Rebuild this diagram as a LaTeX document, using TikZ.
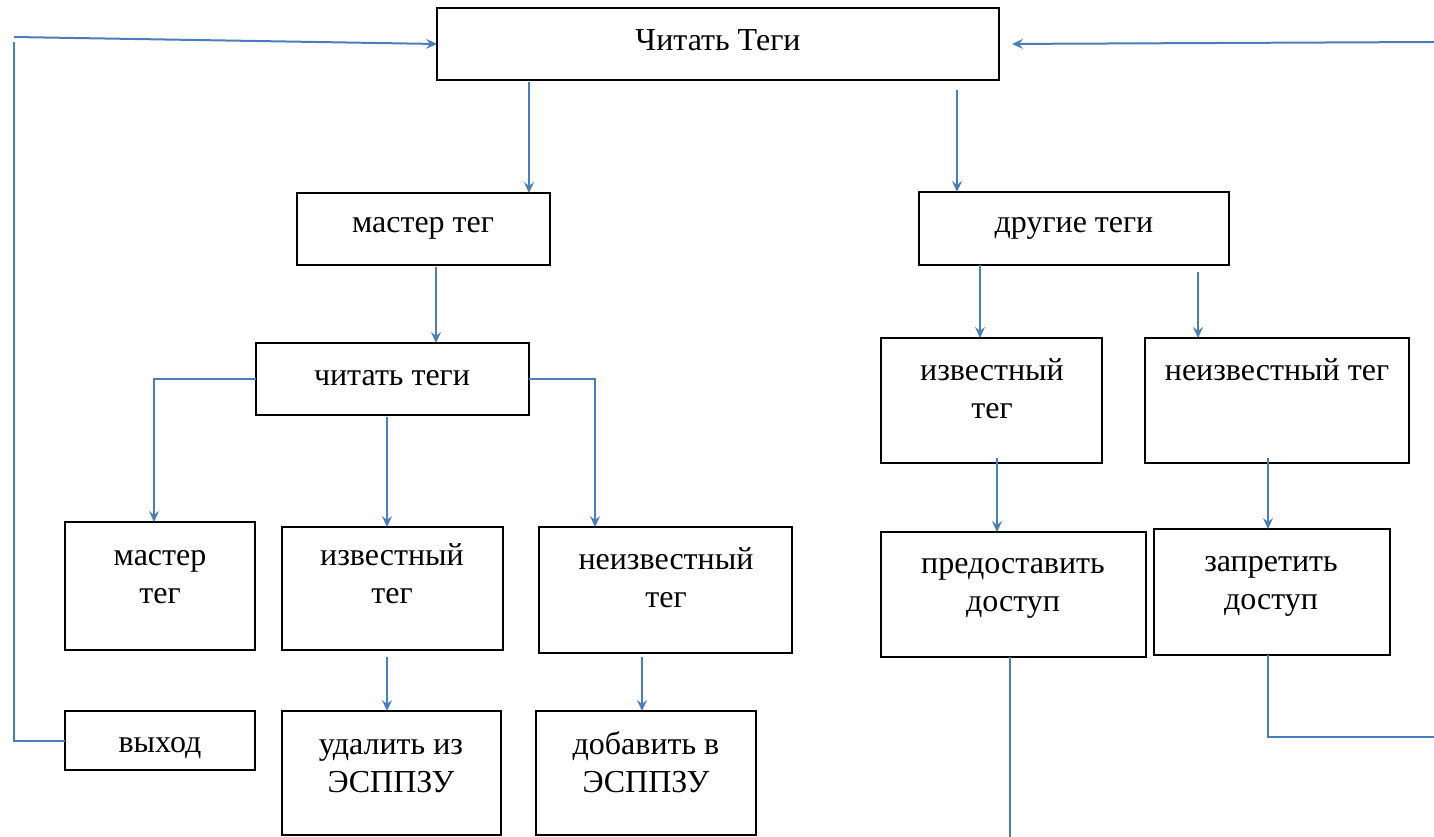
\documentclass[tikz,border=0pt]{standalone}
\usepackage{fontspec}
\setmainfont{Liberation Serif}
\usetikzlibrary{arrows.meta,calc}
\definecolor{conn}{RGB}{74,126,187}
\begin{document}
\begin{tikzpicture}[x=1pt,y=-1pt,
  box/.style={draw=black,line width=2.4pt,anchor=north west,inner sep=0pt,outer sep=0pt},
  txt/.style={align=center,inner sep=0pt,anchor=north,text height=0pt,yshift=-2.5pt,font=\fontsize{32}{38}\selectfont},
  line/.style={draw=conn,line width=2pt},
  arr/.style={line,-{Stealth[length=11pt,width=10pt,inset=4pt]}}]
\useasboundingbox (0,0) rectangle (1434,837);
% boxes
\node[box,minimum width=562,minimum height=72] (read) at (437,8) {};
\node[box,minimum width=253,minimum height=72] (mt) at (297,193) {};
\node[box,minimum width=310,minimum height=73] (dt) at (919,192) {};
\node[box,minimum width=273,minimum height=72] (rt) at (256,343) {};
\node[box,minimum width=221,minimum height=125] (k1) at (881,338) {};
\node[box,minimum width=264,minimum height=125] (u1) at (1145,338) {};
\node[box,minimum width=190,minimum height=128] (m2) at (65,522) {};
\node[box,minimum width=221,minimum height=123] (k2) at (282,527) {};
\node[box,minimum width=253,minimum height=126] (u2) at (539,527) {};
\node[box,minimum width=265,minimum height=125] (give) at (881,532) {};
\node[box,minimum width=236,minimum height=126] (deny) at (1154,529) {};
\node[box,minimum width=190,minimum height=59] (exit) at (65,711) {};
\node[box,minimum width=219,minimum height=124] (del) at (282,711) {};
\node[box,minimum width=220,minimum height=124] (add) at (536,711) {};
% texts (positioned at the baseline of the last line)
\node[txt] (tread) at (718,47) {Читать Теги};
\node[txt] (tmt) at (423,230) {мастер тег};
\node[txt] (tdt) at (1074,230) {другие теги};
\node[txt] (trt) at (392,382) {читать теги};
\node[txt] (tk1) at (992,415) {известный\\тег};
\node[txt] (tu1) at (1277,377) {неизвестный тег};
\node[txt] (tm2) at (160,600) {мастер\\тег};
\node[txt] (tk2) at (392,600) {известный\\тег};
\node[txt] (tu2) at (666,604) {неизвестный\\тег};
\node[txt] (tgive) at (1013,609) {предоставить\\доступ};
\node[txt] (tdeny) at (1271,607) {запретить\\доступ};
\node[txt] (texit) at (160,750) {выход};
\node[txt] (tdel) at (391,789) {удалить из\\ЭСППЗУ};
\node[txt] (tadd) at (646,789) {добавить в\\ЭСППЗУ};
% free ends
\coordinate (ltop) at (14,42);
\coordinate (lstart) at (14,37);
\coordinate (rtop) at (1434,42);
\coordinate (gbot) at (1010,837);
\coordinate (dright) at (1434,737);
% connectors
\draw[arr,shorten <=2pt] ([xshift=92]read.south west) -- ([xshift=92]read.south west |- mt.north);
\draw[arr,shorten <=10pt] ([xshift=520]read.south west) -- ([xshift=520]read.south west |- dt.north);
\draw[arr,shorten <=2pt] ([xshift=139]mt.south west) -- ([xshift=139]mt.south west |- rt.north);
\draw[arr] (rt.west) -| ([xshift=89]m2.north west);
\draw[arr,shorten <=2pt] ([xshift=131]rt.south west) -- ([xshift=131]rt.south west |- k2.north);
\draw[arr] (rt.east) -| ([xshift=56]u2.north west);
\draw[arr] ([xshift=61]dt.south west) -- ([xshift=61]dt.south west |- k1.north);
\draw[arr,shorten <=7pt] ([xshift=279]dt.south west) -- ([xshift=279]dt.south west |- u1.north);
\draw[arr,shorten <=-5pt] ([xshift=116]k1.south west) -- ([xshift=116]k1.south west |- give.north);
\draw[arr,shorten <=-5pt] ([xshift=123]u1.south west) -- ([xshift=123]u1.south west |- deny.north);
\draw[arr,shorten <=7pt] ([xshift=105]k2.south west) -- ([xshift=105]k2.south west |- del.north);
\draw[arr,shorten <=4pt] ([xshift=103]u2.south west) -- ([xshift=103]u2.south west |- add.north);
\draw[line] ([xshift=129]give.south west) -- ([xshift=129]give.south west |- gbot);
\draw[line] ([xshift=114]deny.south west) |- (dright);
\draw[arr,shorten >=13pt] (rtop) -- (read.east);
\draw[line] (exit.west) -| (ltop);
\draw[arr] (lstart) -- (read.west);
\end{tikzpicture}
\end{document}
